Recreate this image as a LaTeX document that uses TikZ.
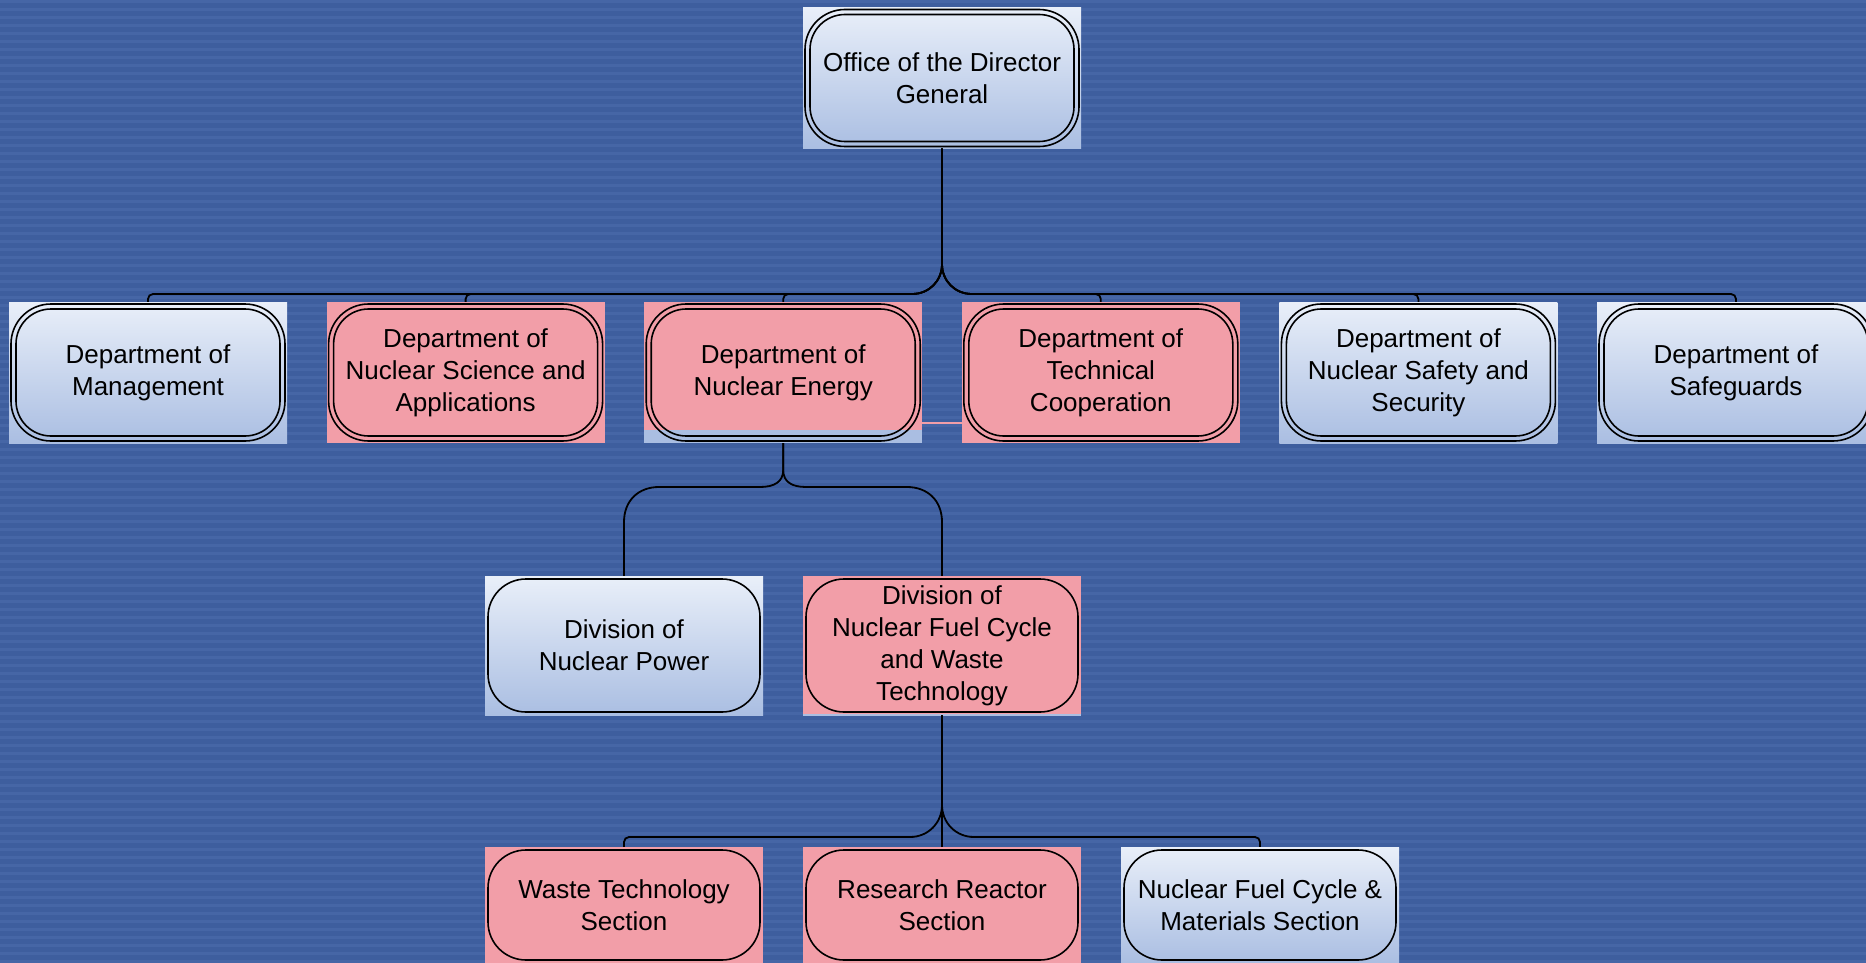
\documentclass[tikz,border=0pt]{standalone}
\usepackage{fontspec}
\setmainfont{Liberation Sans}
\usepackage{tikz}
\usetikzlibrary{calc}

\definecolor{deskblue}{RGB}{62,94,158}
\definecolor{stripeblue}{RGB}{70,102,166}
\definecolor{paletop}{RGB}{233,239,249}
\definecolor{palebot}{RGB}{170,190,226}
\definecolor{rosefill}{RGB}{242,158,168}

\newcommand{\dblrim}{%
        \draw[rim,rounded corners=40pt] ([shift={(2pt,-2pt)}]path picture bounding box.north west) rectangle ([shift={(-2pt,2pt)}]path picture bounding box.south east);
        \draw[rim,rounded corners=35pt] ([shift={(7pt,-7pt)}]path picture bounding box.north west) rectangle ([shift={(-7pt,7pt)}]path picture bounding box.south east);}
\newcommand{\onerim}{%
        \draw[rim,rounded corners=38pt] ([shift={(3pt,-3pt)}]path picture bounding box.north west) rectangle ([shift={(-3pt,3pt)}]path picture bounding box.south east);}

\tikzset{
        unit/.style={rectangle,inner sep=0pt,minimum width=278pt,align=center,font=\fontsize{26}{32}\selectfont},
        pale/.style={unit,top color=paletop,bottom color=palebot},
        rose/.style={unit,fill=rosefill},
        dept/.style={minimum height=141pt,path picture={\dblrim}},
        cutdept/.style={minimum height=141pt,path picture={\fill[palebot] (path picture bounding box.south west) rectangle ([yshift=13pt]path picture bounding box.south east); \dblrim}},
        divn/.style={minimum height=139pt,path picture={\onerim}},
        sect/.style={minimum height=116pt,path picture={\onerim}},
        rim/.style={line width=1.6pt},
        link/.style={line width=1.8pt}
}

\begin{document}
\begin{tikzpicture}[x=1pt,y=-1pt]
        \useasboundingbox (0,0) rectangle (1866,963);
        \fill[deskblue] (0,0) rectangle (1866,963);
        \foreach \y in {0,8,...,960} \fill[stripeblue] (0,\y) rectangle (1866,\y+3);
        \node[pale,dept] (dg) at (942,78) {Office of the Director\\General};
        \node[pale,dept] (mgmt) at (148,372.5) {Department of\\Management};
        \node[rose,dept] (nsa) at (465.6,372.5) {Department of\\Nuclear Science and\\Applications};
        \node[rose,cutdept] (ne) at (783.2,372.5) {Department of\\Nuclear Energy};
        \node[rose,dept] (tc) at (1100.8,372.5) {Department of\\Technical\\Cooperation};
        \node[pale,dept] (nss) at (1418.4,372.5) {Department of\\Nuclear Safety and\\Security};
        \node[pale,dept] (sg) at (1736,372.5) {Department of\\Safeguards};
        \node[pale,divn] (np) at (624,645.5) {Division of\\Nuclear Power};
        \node[rose,divn] (fc) at (942,645.5) {Division of\\Nuclear Fuel Cycle\\and Waste\\Technology};
        \node[rose,sect] (wt) at (624,905) {Waste Technology\\Section};
        \node[rose,sect] (rr) at (942,905) {Research Reactor\\Section};
        \node[pale,sect] (nfc) at (1260,905) {Nuclear Fuel Cycle \&\\Materials Section};
        \draw[rosefill,line width=2pt] (ne.east |- 0,423) -- (tc.west |- 0,423);
        \draw[palebot,line width=1.5pt] (fc.south west) -- (fc.south east);
        \foreach \n in {mgmt,nsa,ne}
        \draw[link,rounded corners=5pt] (dg.south) -- (942,259) .. controls (942,281) and (929,294) .. (907,294) -- (\n.north |- 0,294) -- (\n.north);
        \foreach \n in {tc,nss,sg}
        \draw[link,rounded corners=5pt] (dg.south) -- (942,259) .. controls (942,281) and (955,294) .. (977,294) -- (\n.north |- 0,294) -- (\n.north);
        \draw[link] (ne.south) -- (783.2,470) .. controls (783.2,482) and (774,487) .. (760,487) -- (659,487) .. controls (639,487) and (624,500) .. (624,522) -- (np.north);
        \draw[link] (ne.south) -- (783.2,470) .. controls (783.2,482) and (792,487) .. (806,487) -- (907,487) .. controls (927,487) and (942,500) .. (942,522) -- (fc.north);
        \draw[link] (fc.south) -- (rr.north);
        \draw[link,rounded corners=5pt] (fc.south) -- (942,800) .. controls (942,823) and (928,837) .. (905,837) -- (wt.north |- 0,837) -- (wt.north);
        \draw[link,rounded corners=5pt] (fc.south) -- (942,800) .. controls (942,823) and (956,837) .. (979,837) -- (nfc.north |- 0,837) -- (nfc.north);
\end{tikzpicture}
\end{document}
